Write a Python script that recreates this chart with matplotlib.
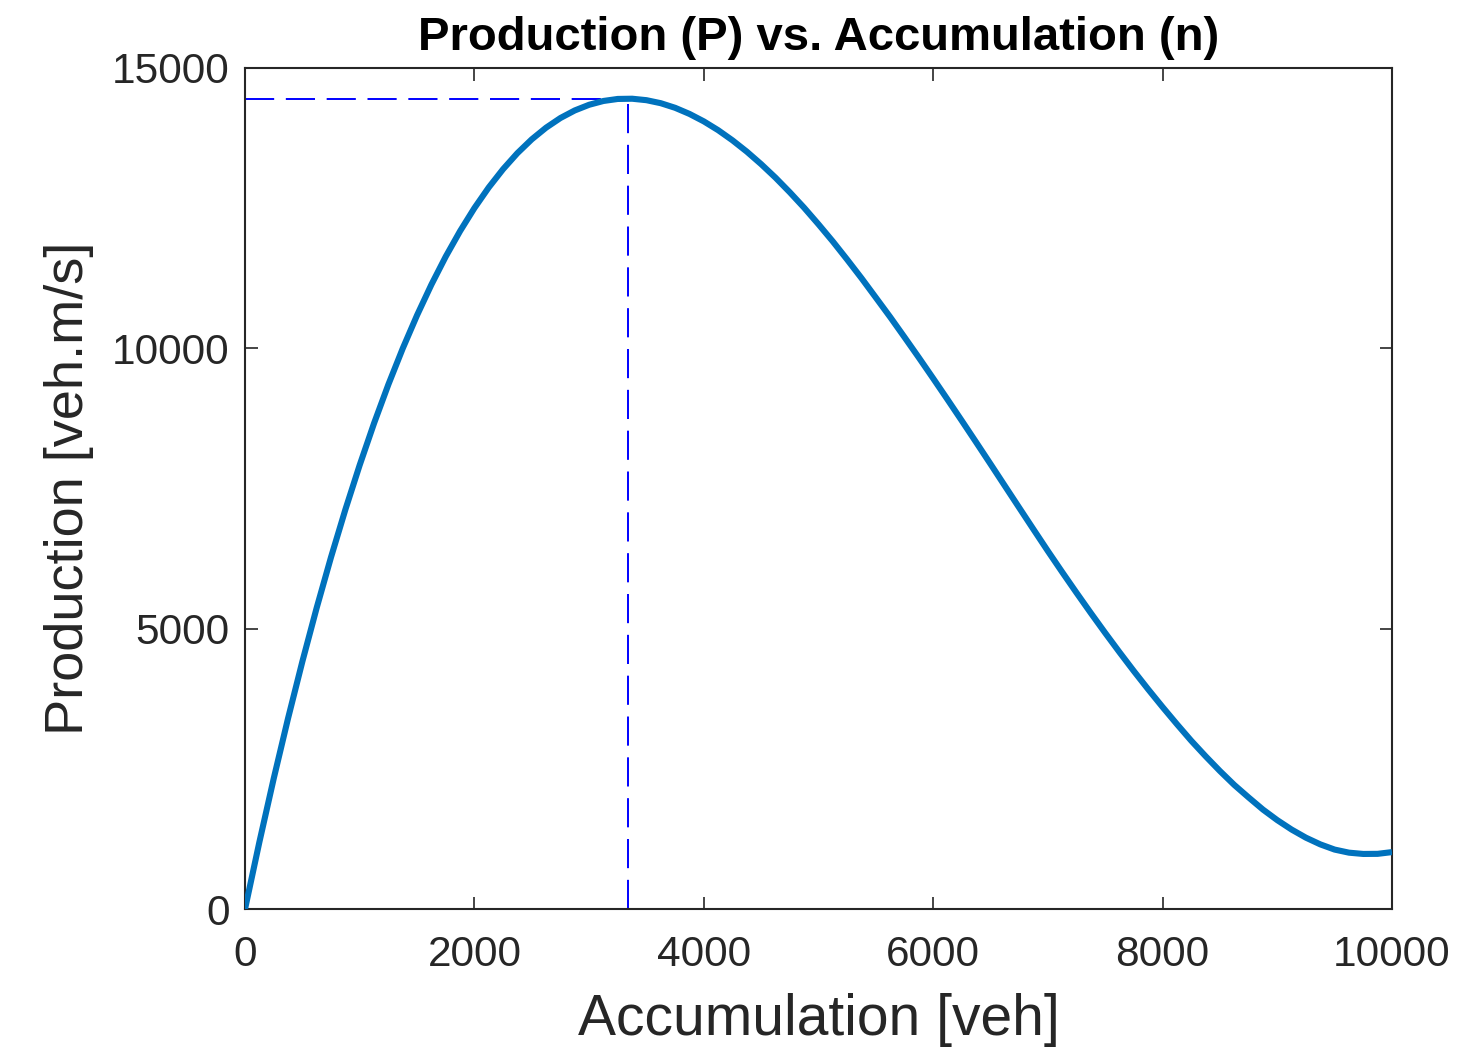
import matplotlib.pyplot as plt
import numpy as np

plt.rcParams['font.family'] = ['Liberation Sans', 'DejaVu Sans']

# accumulation n [veh] and production P [veh.m/s]
n_veh = [0, 125, 250, 375, 500, 625, 750, 875, 1000, 1125, 1250, 1375, 1500,
         1625, 1750, 1875, 2000, 2125, 2250, 2375, 2500, 2625, 2750, 2875,
         3000, 3125, 3250, 3375, 3500, 3625, 3750, 3875, 4000, 4125, 4250,
         4375, 4500, 4625, 4750, 4875, 5000, 5125, 5250, 5375, 5500, 5625,
         5750, 5875, 6000, 6125, 6250, 6375, 6500, 6625, 6750, 6875, 7000,
         7125, 7250, 7375, 7500, 7625, 7750, 7875, 8000, 8125, 8250, 8375,
         8500, 8625, 8750, 8875, 9000, 9125, 9250, 9375, 9500, 9625, 9750,
         9875, 10000]
prod = [0, 1193, 2326, 3400, 4415, 5374, 6277, 7125, 7920, 8664, 9356, 9998,
        10591, 11137, 11637, 12091, 12502, 12870, 13196, 13482, 13728, 13936,
        14108, 14243, 14344, 14412, 14448, 14452, 14426, 14372, 14290, 14181,
        14048, 13891, 13710, 13508, 13285, 13044, 12783, 12507, 12212, 11906,
        11583, 11251, 10905, 10558, 10198, 9834, 9463, 9087, 8707, 8323, 7936,
        7546, 7157, 6769, 6384, 6008, 5639, 5277, 4923, 4578, 4242, 3917,
        3602, 3297, 3001, 2725, 2461, 2213, 1990, 1774, 1585, 1417, 1272,
        1153, 1060, 1005, 982, 984, 1015]

# critical accumulation and maximum production
n_crit = 3340
p_max = 14452

xticks = [0, 2000, 4000, 6000, 8000, 10000]
yticks = [0, 5000, 10000, 15000]

fig = plt.figure(figsize=(14.62, 10.51), dpi=100)
ax = fig.add_axes([0.1676, 0.1351, 0.7845, 0.8002])

ax.plot(n_veh, prod, color='#0072BD', lw=4.4, solid_capstyle='butt',
        solid_joinstyle='round', zorder=3)
ax.plot([0, n_crit], [p_max, p_max], color='blue', lw=1.4, dashes=(15, 6))
ax.plot([n_crit, n_crit], [0, p_max], color='blue', lw=1.4, dashes=(15, 6))

ax.set_xlim(0, 10000)
ax.set_ylim(0, 15000)
ax.set_xticks(xticks)
ax.set_yticks(yticks)

dark = '#262626'
for s in ax.spines.values():
    s.set_linewidth(1.5)
    s.set_color(dark)
ax.tick_params(direction='in', length=9, width=1.2, colors=dark,
               labelsize=30.5, top=True, right=True)
ax.tick_params(axis='x', pad=19)
ax.tick_params(axis='y', pad=11)

ax.set_xlabel('Accumulation [veh]', fontsize=41, color=dark, labelpad=13)
ax.set_ylabel('Production [veh.m/s]', fontsize=39, color=dark, labelpad=13)
ax.set_title('Production (P) vs. Accumulation (n)', fontsize=34,
             fontweight='bold', color='black', pad=13)

fig.savefig('out.png', dpi=100, facecolor='white')
